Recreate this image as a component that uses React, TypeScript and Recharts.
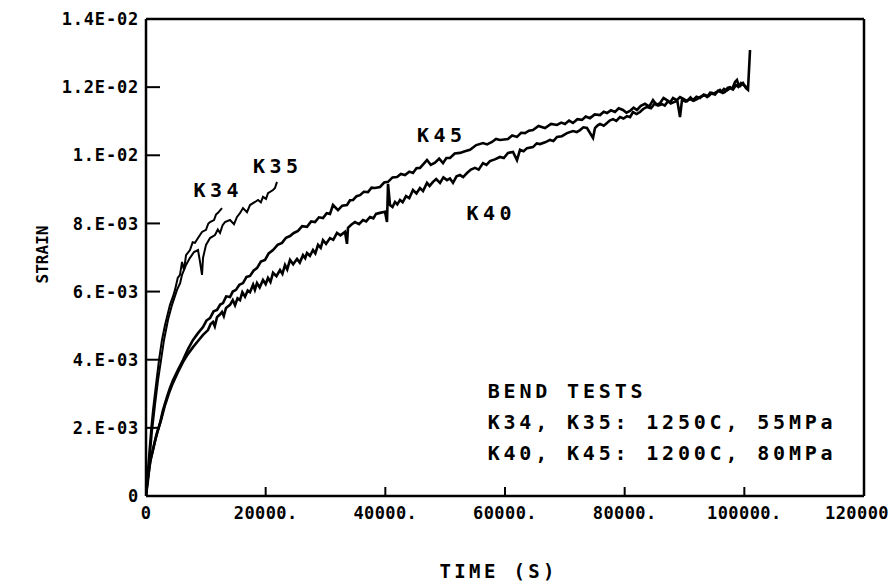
import React from 'react';
import { LineChart, Line, XAxis, YAxis, ReferenceDot } from 'recharts';

// ---- data (time in s, strain) ----
const k34: number[][] = [
  [0, 0], [170, 0.00047], [500, 0.0012], [840, 0.00194], [1170, 0.00252], [1670, 0.00326],
  [2170, 0.00399], [2670, 0.00458], [3180, 0.00502], [4010, 0.00561], [4500, 0.00585], [4850, 0.00605],
  [5300, 0.0064], [5680, 0.00649], [6020, 0.00687], [6350, 0.00663], [6690, 0.00707], [7350, 0.00722],
  [7800, 0.00745], [8190, 0.00743], [8690, 0.00757], [9360, 0.00775], [10030, 0.00781], [10400, 0.00799],
  [10700, 0.00804], [11370, 0.0081], [11700, 0.00826], [12030, 0.00831], [12700, 0.00845],
];

const k35: number[][] = [
  [0, 0], [330, 0.00053], [670, 0.0012], [1000, 0.00188], [1500, 0.00267], [2010, 0.0034],
  [2510, 0.00399], [3010, 0.00458], [3680, 0.00517], [4350, 0.00561], [5180, 0.00605],
  [5700, 0.00625], [6020, 0.00649], [6690, 0.00678], [7350, 0.00699], [8020, 0.00716], [8690, 0.00722],
  [9030, 0.00687], [9360, 0.00649], [9530, 0.00699], [10030, 0.00737], [10700, 0.00757],
  [11530, 0.00766], [12000, 0.00782], [12370, 0.00772], [12800, 0.00795], [13200, 0.00804], [14040, 0.0081],
  [14710, 0.00798], [15210, 0.00819], [15700, 0.00830], [16210, 0.00845], [16880, 0.00833], [17380, 0.00854],
  [18220, 0.00863], [18720, 0.00869], [19200, 0.00862], [19550, 0.00878], [20060, 0.00872], [20390, 0.00889],
  [21230, 0.00898], [21560, 0.00904], [21890, 0.00922],
];

const k45: number[][] = [
  [0, 0], [330, 0.00047], [670, 0.001], [1170, 0.00135], [1670, 0.00173], [2340, 0.00214],
  [2840, 0.00252], [3510, 0.00291], [4010, 0.00317], [4510, 0.0034], [5350, 0.0037],
  [6180, 0.00399], [7020, 0.00431], [7860, 0.00458], [8690, 0.00478], [9530, 0.00496],
  [10100, 0.00515], [10700, 0.00522], [11300, 0.00542], [11870, 0.00546], [12400, 0.00562], [12870, 0.00566],
  [13400, 0.00586], [14040, 0.00584], [14500, 0.00600], [15040, 0.00605], [15600, 0.0062], [16210, 0.00625],
  [16800, 0.00643], [17380, 0.00646], [18000, 0.00662], [18550, 0.00669], [19200, 0.00688], [19890, 0.00693],
  [20500, 0.00712], [21230, 0.00722], [22000, 0.00737], [22730, 0.00743], [23400, 0.00758], [24070, 0.00763],
  [24700, 0.00772], [25400, 0.00778], [26100, 0.00792], [26910, 0.0079], [27600, 0.00806], [28250, 0.00804],
  [28900, 0.00818], [29580, 0.00816], [30200, 0.00830], [30750, 0.00828], [31250, 0.00854], [32090, 0.00839],
  [32800, 0.00852], [33590, 0.00854], [34100, 0.00868], [34600, 0.00869], [35200, 0.0088], [35770, 0.00883],
  [36400, 0.00893], [37100, 0.00892], [37700, 0.00905], [38270, 0.00904], [39110, 0.00907], [39800, 0.0092],
  [40450, 0.00922], [41200, 0.00935], [41950, 0.00936], [42600, 0.00945], [43290, 0.00942], [44000, 0.00952],
  [44620, 0.00948], [45200, 0.00962], [45790, 0.00963], [46400, 0.00975], [46960, 0.00986], [47600, 0.00972],
  [48300, 0.00978], [49000, 0.00990], [49640, 0.00977], [50200, 0.00992], [50810, 0.00992], [51600, 0.01005],
  [52480, 0.01007], [53300, 0.01012], [54150, 0.01016], [55200, 0.01030], [56320, 0.01036], [57000, 0.01032],
  [57830, 0.01039], [58500, 0.01048], [59160, 0.01045], [60500, 0.01048], [61200, 0.01058], [62000, 0.01054],
  [62700, 0.01066], [63340, 0.01065], [64000, 0.01072], [64680, 0.01074], [65600, 0.01086], [66680, 0.0108],
  [67700, 0.01092], [68690, 0.01089], [69400, 0.01096], [70030, 0.01092], [70700, 0.01102], [71360, 0.01095],
  [72100, 0.01106], [72870, 0.01104], [73500, 0.01114], [74200, 0.01109], [75000, 0.01120], [75880, 0.01118],
  [76500, 0.01128], [77050, 0.01124], [77700, 0.01132], [78380, 0.01127], [79000, 0.01138], [79720, 0.01133],
  [80300, 0.01125], [80890, 0.0113], [81500, 0.01140], [82060, 0.01133], [82700, 0.01145], [83400, 0.01151],
  [84100, 0.01143], [84730, 0.01162], [85300, 0.01148], [85900, 0.01153], [86500, 0.01168], [87070, 0.01162],
  [87600, 0.01155], [88080, 0.01168], [88700, 0.01162], [89250, 0.01171], [89900, 0.01165], [90420, 0.01159],
  [91000, 0.01170], [91420, 0.01162], [92000, 0.01172], [92590, 0.01168], [93200, 0.01178], [93760, 0.01171],
  [94300, 0.01184], [94760, 0.0118], [95400, 0.01186], [95930, 0.01192], [96400, 0.01183], [96770, 0.01186],
  [97200, 0.01198], [97600, 0.012], [98000, 0.01196], [98440, 0.01215], [98770, 0.01221], [99000, 0.01208],
  [99270, 0.01203], [99780, 0.01212], [100280, 0.01197], [100610, 0.01192], [100780, 0.0125], [100950, 0.01309],
];

const k40: number[][] = [
  [0, 0], [170, 0.00032], [500, 0.00076], [840, 0.00112], [1340, 0.0015], [1840, 0.00185],
  [2510, 0.00223], [3180, 0.00267], [3840, 0.00302], [4510, 0.00332], [5350, 0.00364],
  [6180, 0.00393], [7020, 0.00417], [7860, 0.00437], [8690, 0.00455], [9530, 0.00473],
  [10360, 0.00487], [10800, 0.00505], [11200, 0.00511], [11500, 0.00498], [11870, 0.00525], [12300, 0.00532],
  [12700, 0.0054], [13000, 0.00528], [13370, 0.00552], [14040, 0.00561], [14500, 0.00575], [14880, 0.0056],
  [15300, 0.0058], [15710, 0.00575], [16100, 0.00598], [16550, 0.00585], [17000, 0.00603], [17380, 0.00598],
  [17900, 0.0062], [18200, 0.00605], [18550, 0.00625], [19000, 0.00612], [19550, 0.00634], [20000, 0.00622],
  [20390, 0.0064], [20800, 0.00628], [21230, 0.00655], [21800, 0.00645], [22400, 0.00663], [22800, 0.00652],
  [23230, 0.00678], [23600, 0.00665], [24070, 0.00693], [24600, 0.0068], [25240, 0.00696], [25700, 0.00685],
  [26240, 0.00707], [26600, 0.00698], [26910, 0.00713], [27400, 0.00705], [27910, 0.00722], [28300, 0.00712],
  [28750, 0.00737], [29200, 0.00728], [29580, 0.00751], [30100, 0.0074], [30750, 0.00757], [31300, 0.00752],
  [31920, 0.00772], [32500, 0.00765], [33260, 0.00775], [33590, 0.0074], [33760, 0.00787], [34300, 0.00796],
  [34930, 0.00804], [35600, 0.00798], [36270, 0.0081], [36800, 0.00806], [37440, 0.00819], [38000, 0.00815],
  [38440, 0.00828], [39110, 0.00831], [39940, 0.00834], [40280, 0.00804], [40450, 0.00916], [40780, 0.00854],
  [41200, 0.00848], [41620, 0.00863], [42000, 0.00856], [42450, 0.00869], [42900, 0.00862], [43450, 0.0088],
  [44000, 0.00874], [44620, 0.00898], [45200, 0.00888], [45790, 0.00904], [46300, 0.00895], [46960, 0.00919],
  [47400, 0.0091], [47970, 0.00922], [48500, 0.0093], [49140, 0.00919], [49700, 0.00935], [50310, 0.00927],
  [50800, 0.00932], [51310, 0.00919], [51900, 0.00938], [52480, 0.00942], [53000, 0.00936], [53650, 0.00948],
  [54300, 0.00958], [54990, 0.00963], [55600, 0.00958], [56320, 0.00977], [56900, 0.00972], [57490, 0.00983],
  [58300, 0.00988], [59160, 0.00995], [59800, 0.00992], [60500, 0.01007], [61340, 0.0101], [62000, 0.00986],
  [62510, 0.01016], [63100, 0.01012], [63680, 0.01021], [64680, 0.01024], [65300, 0.01035], [65850, 0.01033],
  [66700, 0.01038], [67520, 0.01045], [68100, 0.01042], [68690, 0.01054], [69500, 0.01056], [70360, 0.01065],
  [71360, 0.01071], [72000, 0.01068], [72530, 0.01074], [73100, 0.01082], [73700, 0.0108], [74710, 0.01051],
  [75040, 0.0108], [75500, 0.01088], [75880, 0.01092], [76500, 0.01087], [77050, 0.01095], [77500, 0.01102],
  [78050, 0.01106], [78600, 0.01101], [79220, 0.01112], [79800, 0.01108], [80390, 0.01115], [80900, 0.01112],
  [81390, 0.01127], [82000, 0.01121], [82560, 0.01127], [83100, 0.01136], [83730, 0.01142], [84400, 0.01138],
  [85070, 0.01153], [85600, 0.01146], [86240, 0.0115], [86700, 0.01146], [87240, 0.01159], [87700, 0.01152],
  [88240, 0.01156], [88800, 0.0116], [89250, 0.01112], [89580, 0.01162], [90200, 0.01158], [90920, 0.01165],
  [91500, 0.0116], [92090, 0.01165], [92700, 0.01172], [93420, 0.01177], [94000, 0.01173], [94590, 0.01183],
  [95100, 0.01178], [95600, 0.01189], [96100, 0.01185], [96600, 0.01195], [97100, 0.0119], [97600, 0.01197],
  [98100, 0.01193], [98610, 0.01206], [99000, 0.01201], [99440, 0.01212], [100110, 0.01203], [100610, 0.01197],
];

const xTicks = [0, 20000, 40000, 60000, 80000, 100000, 120000];
const xTickLabels = ['0', '20000.', '40000.', '60000.', '80000.', '100000.', '120000'];
const yTicks = [0, 0.002, 0.004, 0.006, 0.008, 0.01, 0.012, 0.014];
const yTickLabels = ['0', '2.E-03', '4.E-03', '6.E-03', '8.E-03', '1.E-02', '1.2E-02', '1.4E-02'];

const seriesLabels = [
  { name: 'K34', t: 11700, s: 0.00898 },
  { name: 'K35', t: 21640, s: 0.009686 },
  { name: 'K45', t: 49050, s: 0.01061 },
  { name: 'K40', t: 57325, s: 0.00832 },
];

const noteLines = ['BEND TESTS', 'K34, K35: 1250C, 55MPa', 'K40, K45: 1200C, 80MPa'];
const noteAnchor = { t: 57100, s: 0.0031 };

const toRows = (arr: number[][]) => arr.map(([t, s]) => ({ t, s }));

const FONT = '"DejaVu Sans Mono", monospace';
const INK = '#000';
const X_TICK_LEN = 9;
const Y_TICK_LEN = 14;
const X_LABEL_GAP = 10;
const Y_LABEL_GAP = 7;

// bottom axis: custom tick draws inward tick line + label
const XTick = (props: any) => {
  const i = xTicks.indexOf(props.payload.value);
  const axisY = props.y - X_LABEL_GAP;
  const last = i === xTicks.length - 1;
  return (
    <g>
      <line x1={props.x} x2={props.x} y1={axisY} y2={axisY - X_TICK_LEN} stroke={INK} strokeWidth={2} />
      <text x={props.x} y={props.y} dx={last ? -7 : 0} dy="0.75em" textAnchor="middle" fontFamily={FONT} fontSize={17}
        fontWeight={600} letterSpacing={0.4} fill={INK}>
        {i >= 0 ? xTickLabels[i] : ''}
      </text>
    </g>
  );
};

const YTick = (props: any) => {
  const i = yTicks.findIndex((v) => Math.abs(v - props.payload.value) < 1e-9);
  const axisX = props.x + Y_LABEL_GAP;
  return (
    <g>
      <line x1={axisX} x2={axisX + Y_TICK_LEN} y1={props.y} y2={props.y} stroke={INK} strokeWidth={2} />
      <text x={props.x} y={props.y} dy="0.36em" textAnchor="end" fontFamily={FONT} fontSize={17} fontWeight={600}
        letterSpacing={0.8} fill={INK}>
        {i >= 0 ? yTickLabels[i] : ''}
      </text>
    </g>
  );
};

const TopTick = (props: any) => (
  <line x1={props.x} x2={props.x} y1={props.y} y2={props.y + X_TICK_LEN} stroke={INK} strokeWidth={2} />
);

const RightTick = (props: any) => (
  <line x1={props.x} x2={props.x - Y_TICK_LEN} y1={props.y} y2={props.y} stroke={INK} strokeWidth={2} />
);

const makeSeriesLabel = (name: string) => (p: any) => {
  const vb = p.viewBox || {};
  const cx = (vb.x ?? 0) + (vb.width ?? 0) / 2;
  const cy = (vb.y ?? 0) + (vb.height ?? 0) / 2;
  return (
    <text x={cx} y={cy} dy="0.36em" textAnchor="middle" fontFamily={FONT} fontSize={20} fontWeight={600}
      textLength={45} lengthAdjust="spacing" fill={INK}>
      {name}
    </text>
  );
};

const noteWidths = [155, 345, 345];

const NoteLabel = (p: any) => {
  const vb = p.viewBox || {};
  const x0 = (vb.x ?? 0) + (vb.width ?? 0) / 2;
  const y0 = (vb.y ?? 0) + (vb.height ?? 0) / 2;
  return (
    <g>
      {noteLines.map((line, i) => (
        <text key={i} x={x0} y={y0 + i * 31} dy="0.36em" textAnchor="start" fontFamily={FONT} fontSize={20}
          fontWeight={600} textLength={noteWidths[i]} lengthAdjust="spacing" fill={INK}>
          {line}
        </text>
      ))}
    </g>
  );
};

const axisLine = { stroke: INK, strokeWidth: 2.5 };

export default function App() {
  return (
    <div style={{ position: 'absolute', left: 0, top: 0, width: 896, height: 588, background: '#fff' }}>
      <LineChart width={896} height={588} margin={{ top: 18, right: 31, bottom: 0, left: 0 }}>
        <XAxis
          xAxisId="b" dataKey="t" type="number" domain={[0, 120000]} ticks={xTicks} interval={0}
          orientation="bottom" height={92} allowDataOverflow
          tickSize={0} tickMargin={X_LABEL_GAP} tick={<XTick />} tickLine={false} axisLine={axisLine}
          label={{
            content: (p: any) => (
              <text x={p.viewBox.x + p.viewBox.width / 2 - 8} y={p.viewBox.y + 75} dy="0.36em" textAnchor="middle"
                fontFamily={FONT} fontSize={19} fontWeight={600} textLength={115} lengthAdjust="spacing" fill={INK}>TIME (S)</text>
            ),
          }}
        />
        <XAxis
          xAxisId="t" dataKey="t" type="number" domain={[0, 120000]} ticks={xTicks} interval={0}
          orientation="top" height={1} tickSize={0} tickMargin={0} tick={<TopTick />} tickLine={false} axisLine={axisLine}
        />
        <YAxis
          yAxisId="l" type="number" domain={[0, 0.014]} ticks={yTicks} interval={0}
          orientation="left" width={146} allowDataOverflow
          tickSize={0} tickMargin={Y_LABEL_GAP} tick={<YTick />} tickLine={false} axisLine={axisLine}
          label={{
            content: (p: any) => {
              const x = p.viewBox.x + 42;
              const y = p.viewBox.y + p.viewBox.height / 2 - 3;
              return (
                <text x={x} y={y} dy="0.36em" textAnchor="middle" transform={`rotate(-90 ${x} ${y})`}
                  fontFamily={FONT} fontSize={16} fontWeight={600} textLength={58} lengthAdjust="spacing" fill={INK}>STRAIN</text>
              );
            },
          }}
        />
        <YAxis
          yAxisId="r" type="number" domain={[0, 0.014]} ticks={yTicks} interval={0}
          orientation="right" width={1} tickSize={0} tickMargin={0} tick={<RightTick />} tickLine={false} axisLine={axisLine}
        />
        <Line xAxisId="b" yAxisId="l" data={toRows(k34)} dataKey="s" type="linear" stroke={INK} strokeWidth={2} dot={false} isAnimationActive={false} />
        <Line xAxisId="b" yAxisId="l" data={toRows(k35)} dataKey="s" type="linear" stroke={INK} strokeWidth={2} dot={false} isAnimationActive={false} />
        <Line xAxisId="b" yAxisId="l" data={toRows(k40)} dataKey="s" type="linear" stroke={INK} strokeWidth={2.6} dot={false} isAnimationActive={false} />
        <Line xAxisId="b" yAxisId="l" data={toRows(k45)} dataKey="s" type="linear" stroke={INK} strokeWidth={2.6} dot={false} isAnimationActive={false} />
        {seriesLabels.map((l) => (
          <ReferenceDot key={l.name} xAxisId="b" yAxisId="l" x={l.t} y={l.s} r={0} fill="none" stroke="none"
            label={{ content: makeSeriesLabel(l.name) }} />
        ))}
        <ReferenceDot xAxisId="b" yAxisId="l" x={noteAnchor.t} y={noteAnchor.s} r={0} fill="none" stroke="none"
          label={{ content: NoteLabel }} />
      </LineChart>
    </div>
  );
}
